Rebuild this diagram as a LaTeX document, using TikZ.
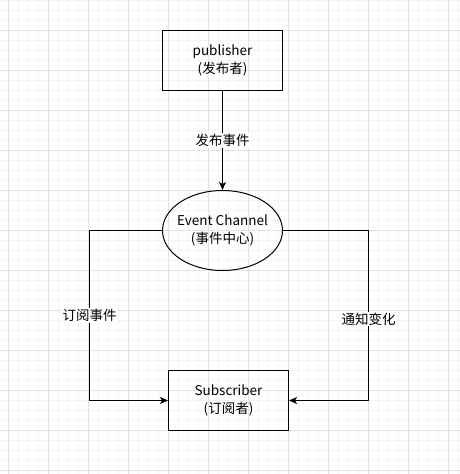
\documentclass[tikz,border=0pt]{standalone}
\usepackage{fontspec}
\setmainfont{Noto Sans CJK SC}
\usetikzlibrary{arrows.meta,shapes.geometric}
\definecolor{gridmajor}{HTML}{E2E2E2}
\definecolor{gridminor}{HTML}{F4F4F4}
\tikzset{
  txt/.style={font=\fontsize{13.5}{17.5}\selectfont, align=center},
  box/.style={txt, draw, line width=1pt, minimum width=120pt, minimum height=60pt, inner sep=0pt},
  channel/.style={txt, draw, ellipse, line width=1pt, minimum width=120pt, minimum height=80pt, inner xsep=-15pt, inner ysep=0pt},
  flow/.style={line width=1pt, -{Stealth[length=8pt,width=7pt,inset=2pt]}},
  lbl/.style={txt, fill=white, inner sep=1pt}
}
\begin{document}
\begin{tikzpicture}[x=1pt, y=-1pt]
\useasboundingbox (0,0) rectangle (460,474);
\fill[white] (0,0) rectangle (460,474);
% grid
\foreach \g in {8.5,18.5,...,458.5} \draw[gridminor, line width=1pt] (\g,0) -- (\g,474);
\foreach \g in {0.5,10.5,...,470.5} \draw[gridminor, line width=1pt] (0,\g) -- (460,\g);
\foreach \g in {8.5,48.5,...,448.5} \draw[gridmajor, line width=1pt] (\g,0) -- (\g,474);
\foreach \g in {30.5,70.5,...,470.5} \draw[gridmajor, line width=1pt] (0,\g) -- (460,\g);
% nodes
\node[box] (pub) at (222.5,60.5) {publisher\\(发布者)};
\node[channel] (ec) at (222.5,230.5) {Event Channel\\(事件中心)};
\node[box] (sub) at (228.5,400.5) {Subscriber\\(订阅者)};
\coordinate (lt) at (89.5,230.5);
\coordinate (rt) at (368.5,230.5);
% connectors
\draw[flow] (pub) -- node[lbl] {发布事件} (ec);
\draw[flow] (ec.west) -- (lt) |- node[lbl, pos=0.25] {订阅事件} (sub.west);
\draw[flow] (ec.east) -- (rt) |- node[lbl, pos=0.26] {通知变化} (sub.east);
\end{tikzpicture}
\end{document}
